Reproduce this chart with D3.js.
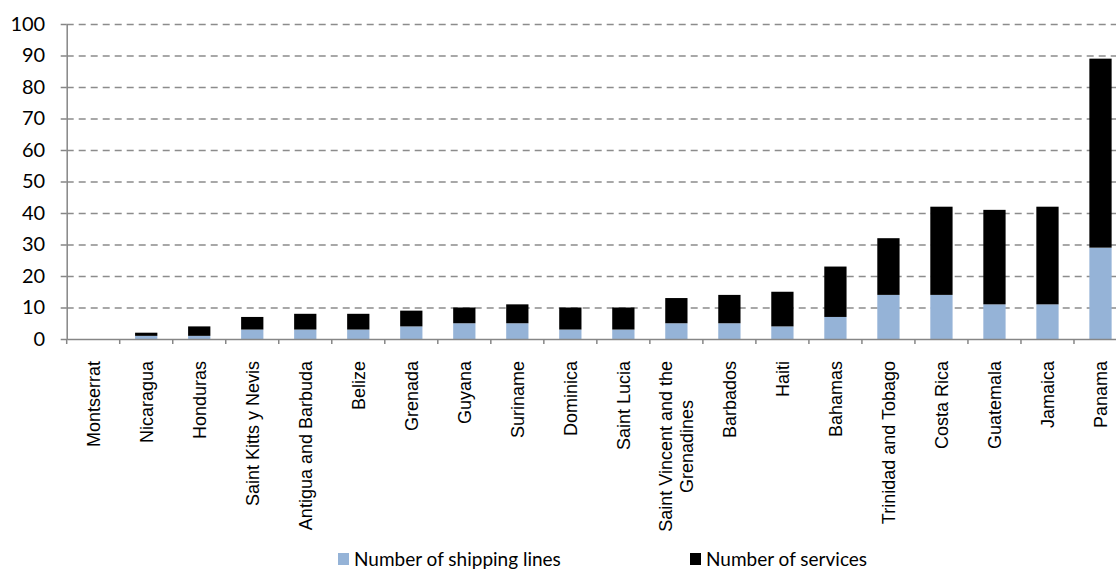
<!DOCTYPE html>
<html>
<head>
<meta charset="utf-8">
<script src="https://cdn.jsdelivr.net/npm/d3@7"></script>
<style>
	body { margin: 0; background: #fff; }
	svg { display: block; }
	.grid line { stroke: #8c8c8c; stroke-width: 1.3; stroke-dasharray: 7,5; }
	.axis path, .axis line { stroke: #868686; stroke-width: 1.5; }
</style>
</head>
<body>
<svg id="chart"></svg>
<script>
const COUNTRIES = ['Montserrat', 'Nicaragua', 'Honduras', 'Saint Kitts y Nevis', 'Antigua and Barbuda',
	'Belize', 'Grenada', 'Guyana', 'Suriname', 'Dominica', 'Saint Lucia',
	'Saint Vincent and the Grenadines', 'Barbados', 'Haiti', 'Bahamas', 'Trinidad and Tobago',
	'Costa Rica', 'Guatemala', 'Jamaica', 'Panama'];

// tick labels as printed under the axis (one entry per line)
const TICK_LABELS = [['Montserrat'], ['Nicaragua'], ['Honduras'], ['Saint Kitts y Nevis'], ['Antigua and Barbuda'],
	['Belize'], ['Grenada'], ['Guyana'], ['Suriname'], ['Dominica'], ['Saint Lucia'],
	['Saint Vincent and the', 'Grenadines'], ['Barbados'], ['Haiti'], ['Bahamas'], ['Trinidad and Tobago'],
	['Costa Rica'], ['Guatemala'], ['Jamaica'], ['Panama']];

const SHIPPING_LINES = [0, 1, 1, 3, 3, 3, 4, 5, 5, 3, 3, 5, 5, 4, 7, 14, 14, 11, 11, 29];
const SERVICES = [0, 1, 3, 4, 5, 5, 5, 5, 6, 7, 7, 8, 9, 11, 16, 18, 28, 30, 31, 60];

const Y_TICKS = [0, 10, 20, 30, 40, 50, 60, 70, 80, 90, 100];

const SERIES = ['Number of shipping lines', 'Number of services'];
const COLORS = ['#95b3d7', '#000000'];

const SVG_WIDTH = 1116;
const SVG_HEIGHT = 569;
const MARGIN = { top: 24, left: 66.7, bottom: 230 };
const PLOT_RIGHT = 1127; // plot area runs a little past the picture edge
const HEIGHT = SVG_HEIGHT - MARGIN.top - MARGIN.bottom;
const WIDTH = PLOT_RIGHT - MARGIN.left;

const rows = COUNTRIES.map((c, i) => ({ country: c, lines: SHIPPING_LINES[i], services: SERVICES[i] }));
const stacked = d3.stack().keys(['lines', 'services'])(rows);

const x = d3.scaleBand().domain(COUNTRIES).range([0, WIDTH]).paddingInner(0.58).paddingOuter(0.29);
const y = d3.scaleLinear().domain([0, 100]).range([HEIGHT, 0]);

const svg = d3.select('#chart')
	.attr('width', SVG_WIDTH)
	.attr('height', SVG_HEIGHT)
.append('g')
	.attr('transform', 'translate(' + MARGIN.left + ', ' + MARGIN.top + ')');

// Gridlines
svg.append('g')
	.attr('class', 'grid')
	.call(d3.axisLeft(y).tickValues(Y_TICKS.filter(d => d > 0)).tickSize(-WIDTH).tickFormat(''))
	.call(g => g.select('.domain').remove());

// Bars
svg.selectAll('.series')
	.data(stacked)
	.enter()
	.append('g')
		.attr('class', 'series')
		.attr('fill', (d, i) => COLORS[i])
	.selectAll('rect')
	.data(d => d)
	.enter()
	.append('rect')
		.attr('x', d => x(d.data.country))
		.attr('width', x.bandwidth())
		.attr('y', d => y(d[1]))
		.attr('height', d => y(d[0]) - y(d[1]));

// X-Axis
const xAxis = svg.append('g')
	.attr('class', 'axis')
	.attr('transform', 'translate(0, ' + HEIGHT + ')')
	.call(d3.axisBottom(x).tickSize(5).tickSizeOuter(0).tickFormat(''));
xAxis.selectAll('.tick line')
	.attr('transform', 'translate(' + (-x.step() / 2) + ', 0)');

const labelTop = HEIGHT + 22;
const lineGap = 20.5;
const labels = svg.append('g')
	.attr('font-family', '"Liberation Sans", Arial, sans-serif')
	.attr('font-size', 18)
	.attr('fill', '#000');

COUNTRIES.forEach((c, i) => {
	const lines = TICK_LABELS[i];
	const cx = x(c) + x.bandwidth() / 2;
	const g = labels.append('g');
	const texts = lines.map((t, j) => g.append('text')
		.attr('dy', '0.35em')
		.attr('text-anchor', 'middle')
		.text(t));
	const w = d3.max(texts, t => t.node().getComputedTextLength());
	texts.forEach((t, j) => {
		const off = (j - (lines.length - 1) / 2) * lineGap;
		t.attr('transform', 'translate(' + (cx + off) + ', ' + (labelTop + w / 2) + ') rotate(-90)');
	});
});

// Y-Axis
svg.append('g')
	.attr('class', 'axis')
	.call(d3.axisLeft(y).tickValues(Y_TICKS).tickSize(6).tickSizeOuter(0).tickPadding(15.5))
	.call(g => g.selectAll('text')
		.attr('font-family', 'Lato, sans-serif')
		.attr('font-size', 20)
		.attr('fill', '#000'));

// Legend
const legendX = [338, 690];
const legend = d3.select('#chart').append('g')
	.selectAll('g')
	.data(SERIES)
	.enter()
	.append('g')
		.attr('transform', (d, i) => 'translate(' + legendX[i] + ', 553)');
legend.append('rect')
	.attr('width', 11)
	.attr('height', 12)
	.attr('fill', (d, i) => COLORS[i]);
legend.append('text')
	.attr('x', 16)
	.attr('y', 13)
	.attr('font-family', 'Lato, sans-serif')
	.attr('font-size', 19)
	.attr('fill', '#000')
	.text(d => d);
</script>
</body>
</html>
